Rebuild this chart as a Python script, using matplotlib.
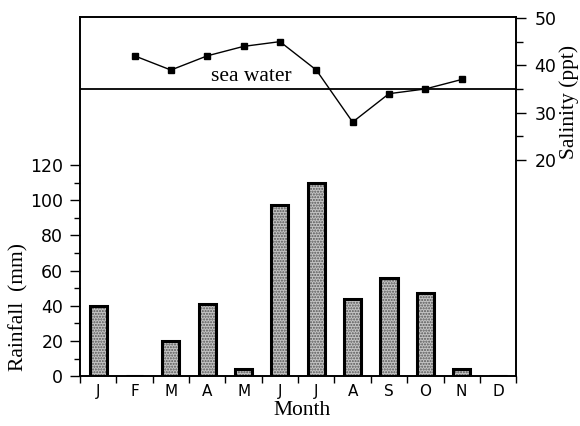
import matplotlib
matplotlib.use("Agg")
from matplotlib import pyplot as plt
from matplotlib.ticker import FixedLocator
import numpy as np

months = ['J', 'F', 'M', 'A', 'M', 'J', 'J', 'A', 'S', 'O', 'N', 'D']
rainfall = [40, 0, 20, 41, 4, 97, 110, 44, 56, 47, 4, 0]
# salinity measured February to November
sal_months = [1, 2, 3, 4, 5, 6, 7, 8, 9, 10]
salinity = [42, 39, 42, 44, 45, 39, 28, 34, 35, 37]
sea_water = 35

serif = ['Liberation Serif', 'DejaVu Serif']
sans = ['DejaVu Sans']


def main():
    fig = plt.figure(figsize=(5.8, 4.26), dpi=100)
    ax = fig.add_axes([0.138, 0.117, 0.752, 0.843])
    x = np.arange(len(months))

    # stippled bars, then a heavy outline on top
    ax.bar(x, rainfall, width=0.47, color='#c4c4c4', hatch='......',
           edgecolor='#555555', linewidth=0, zorder=2)
    ax.bar(x, rainfall, width=0.47, fill=False, edgecolor='black',
           linewidth=2.2, zorder=3)

    ax.set_xlim(-0.5, 11.5)
    ax.set_ylim(0, 204)
    ax.set_xticks(x)
    ax.set_xticklabels(months, family=sans, fontsize=11)
    ax.xaxis.set_minor_locator(FixedLocator(np.arange(-0.5, 11.6, 1)))
    ax.tick_params(axis='x', which='major', length=0, pad=6)
    ax.tick_params(axis='x', which='minor', length=5, width=1, direction='out')
    ax.yaxis.set_major_locator(FixedLocator(range(0, 121, 20)))
    ax.yaxis.set_minor_locator(FixedLocator(range(10, 120, 20)))
    ax.tick_params(axis='y', which='major', length=7, width=1, direction='out',
                   labelsize=12.5, pad=5)
    ax.tick_params(axis='y', which='minor', length=4, width=1, direction='out')
    for lbl in ax.get_yticklabels():
        lbl.set_family(sans)
    for s in ax.spines.values():
        s.set_linewidth(1.2)

    ax2 = ax.twinx()
    ax2.plot(sal_months, salinity, color='black', lw=1, marker='s',
             markersize=4.5, zorder=4)
    ax2.axhline(sea_water, color='black', lw=1.3)
    ax2.text(4.2, sea_water + 0.6, 'sea water', family=serif, fontsize=15.5,
             ha='center', va='bottom')
    ax2.set_ylim(-25.7, 50.2)
    ax2.yaxis.set_major_locator(FixedLocator([20, 30, 40, 50]))
    ax2.yaxis.set_minor_locator(FixedLocator([25, 35, 45]))
    ax2.tick_params(axis='y', which='major', length=7, width=1, direction='out',
                    labelsize=12.5, pad=6)
    ax2.tick_params(axis='y', which='minor', length=5, width=1, direction='out')
    for lbl in ax2.get_yticklabels():
        lbl.set_family(sans)
    for s in ax2.spines.values():
        s.set_linewidth(1.2)

    fig.text(0.52, 0.037, 'Month', family=serif, fontsize=15.5,
             ha='center', va='center')
    fig.text(0.032, 0.28, 'Rainfall  (mm)', family=serif, fontsize=15.5,
             rotation=90, ha='center', va='center')
    fig.text(0.982, 0.76, 'Salinity (ppt)', family=serif, fontsize=15.5,
             rotation=90, ha='center', va='center')

    fig.savefig('out.png', dpi=100)


if __name__ == '__main__':
    main()
